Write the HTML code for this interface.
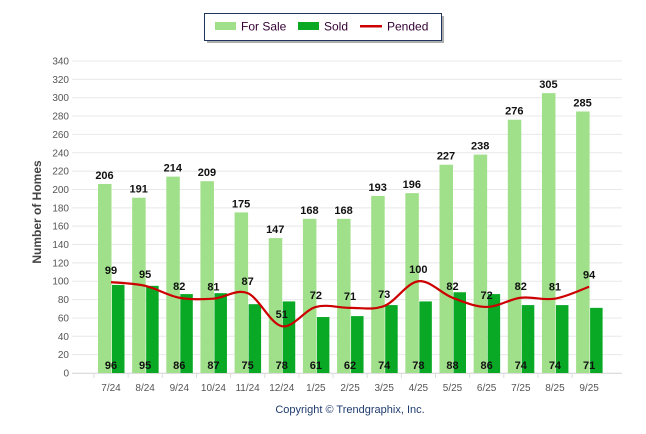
<!DOCTYPE html>
<html><head><meta charset="utf-8"><style>
body{margin:0;background:#fff;}
svg{display:block;font-family:"Liberation Sans",Arial,sans-serif;}
</style></head><body>
<svg id="c" width="646" height="434" viewBox="0 0 646 434" xmlns="http://www.w3.org/2000/svg">
<rect x="207" y="16" width="237" height="27" fill="#777" opacity="0.6"/>
<rect x="204.5" y="13.5" width="237" height="27" fill="#fff" stroke="#1f3560" stroke-width="1"/>
<rect x="215" y="22" width="21" height="8" fill="#a0e08a"/>
<text x="241" y="30.5" font-size="12" fill="#330033">For Sale</text>
<rect x="298" y="22" width="21" height="8" fill="#0aa925"/>
<text x="324" y="30.5" font-size="12" fill="#330033">Sold</text>
<rect x="360" y="25" width="22" height="2.5" fill="#cc0000"/>
<text x="387" y="30.5" font-size="12" fill="#330033">Pended</text>
<g id="grid"></g>
<text transform="translate(41,212) rotate(-90)" text-anchor="middle" font-size="12" font-weight="bold" fill="#444">Number of Homes</text>
<text x="350" y="413" text-anchor="middle" font-size="11" fill="#1f3b6e">Copyright © Trendgraphix, Inc.</text>
</svg>
<script>
var NS="http://www.w3.org/2000/svg",g=document.getElementById('grid');
function el(t,a,txt){var e=document.createElementNS(NS,t);for(var k in a)e.setAttribute(k,a[k]);if(txt!=null)e.textContent=txt;g.appendChild(e);return e;}
var y0=373,s=312/340;
for(var v=0;v<=340;v+=20){var y=y0-v*s;el('line',{x1:72,x2:622,y1:y,y2:y,stroke:'#e8e8e8','stroke-width':1});el('text',{x:69,y:y+3.5,'text-anchor':'end','font-size':'10',fill:'#555'},v);}
el('line',{x1:72,x2:622,y1:y0+0.5,y2:y0+0.5,stroke:'#ddd','stroke-width':1});
var fs=[206,191,214,209,175,147,168,168,193,196,227,238,276,305,285];
var sd=[96,95,86,87,75,78,61,62,74,78,88,86,74,74,71];
var pd=[99,95,82,81,87,51,72,71,73,100,82,72,82,81,94];
var lb=['7/24','8/24','9/24','10/24','11/24','12/24','1/25','2/25','3/25','4/25','5/25','6/25','7/25','8/25','9/25'];
var pts=[];
for(var i=0;i<15;i++){var x=98+34.15*i,c=x+13;
el('line',{x1:x+13-17,x2:x+13-17,y1:y0,y2:y0+5,stroke:'#ddd'});
el('rect',{x:x,y:y0-fs[i]*s,width:13.5,height:fs[i]*s,fill:'#a0e08a'});
el('rect',{x:x+14,y:y0-sd[i]*s,width:12.5,height:sd[i]*s,fill:'#0aa925'});
el('text',{x:x+6.5,y:y0-fs[i]*s-5,'text-anchor':'middle','font-size':'11','font-weight':'bold',fill:'#111'},fs[i]);
el('text',{x:c,y:369,'text-anchor':'middle','font-size':'11','font-weight':'bold',fill:'#111'},sd[i]);
el('text',{x:c,y:391,'text-anchor':'middle','font-size':'10',fill:'#555'},lb[i]);
pts.push([c,y0-pd[i]*s]);}
var d='M'+pts[0][0]+','+pts[0][1];
for(var i=0;i<14;i++){var p0=pts[Math.max(0,i-1)],p1=pts[i],p2=pts[i+1],p3=pts[Math.min(14,i+2)];
d+=' C'+(p1[0]+(p2[0]-p0[0])/6)+','+(p1[1]+(p2[1]-p0[1])/6)+' '+(p2[0]-(p3[0]-p1[0])/6)+','+(p2[1]-(p3[1]-p1[1])/6)+' '+p2[0]+','+p2[1];}
el('path',{d:d,fill:'none',stroke:'#cc0000','stroke-width':2.2});
for(var i=0;i<15;i++)el('text',{x:pts[i][0],y:pts[i][1]-8,'text-anchor':'middle','font-size':'11','font-weight':'bold',fill:'#111'},pd[i]);
</script>
</body></html>
